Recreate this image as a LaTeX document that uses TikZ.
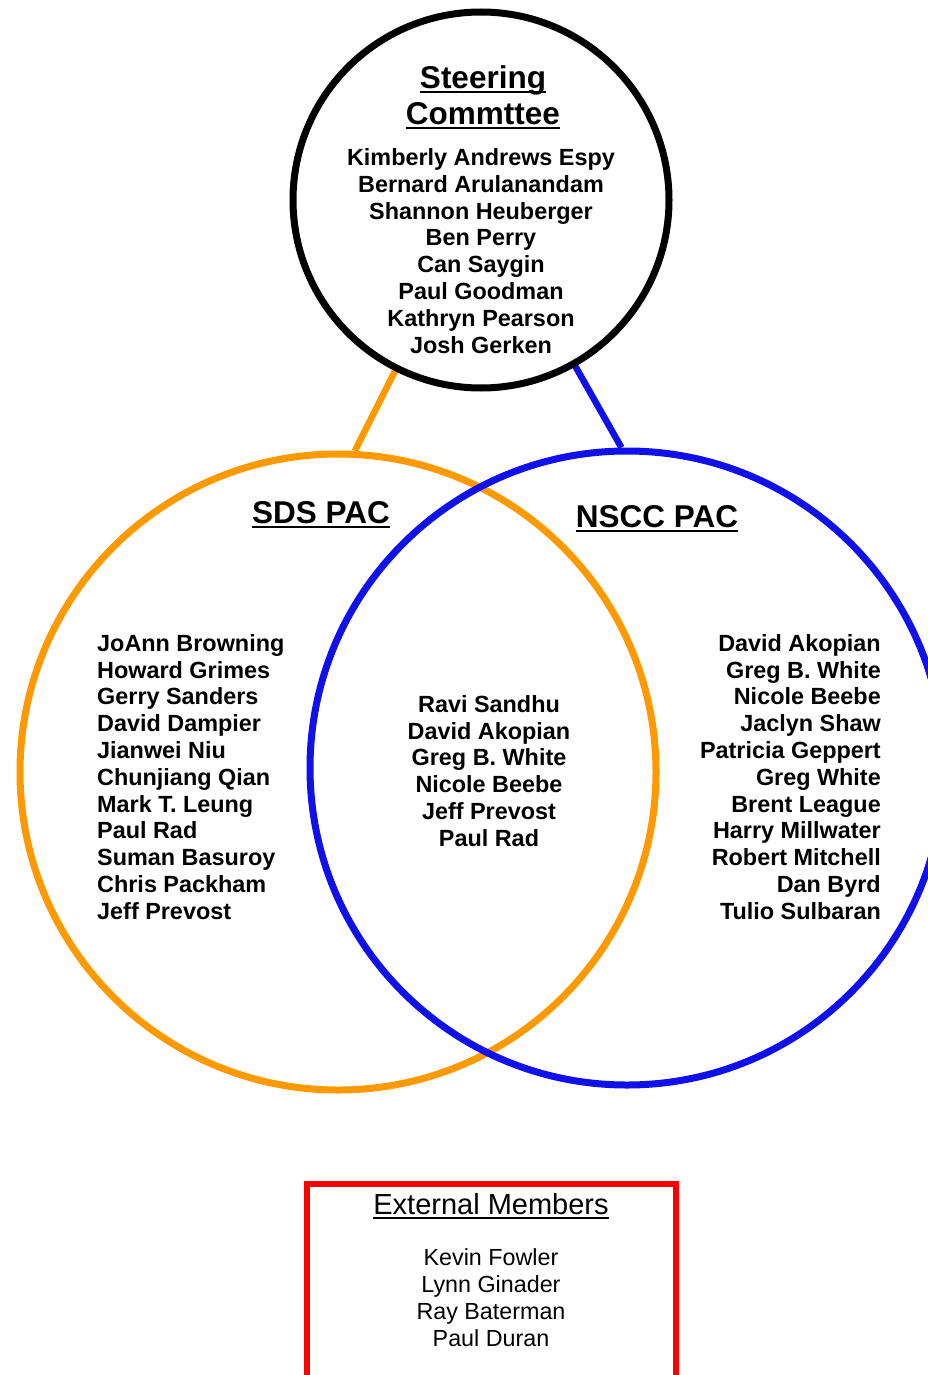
\documentclass[tikz,border=0pt]{standalone}
\usepackage{fontspec}
\setmainfont{Liberation Sans}
\usepackage{xcolor}
\usepackage{tikz}
\usetikzlibrary{positioning}
\definecolor{sdsorange}{RGB}{255,153,0}
\definecolor{nsccblue}{RGB}{16,16,235}
\definecolor{extred}{RGB}{255,0,0}
\newsavebox{\headbox}
\newcommand{\headul}[1]{\sbox{\headbox}{#1}\leavevmode\rlap{\rule[-4.5pt]{\wd\headbox}{1.8pt}}\usebox{\headbox}}
\newcommand{\namefont}{\fontsize{23.4}{26.8}\selectfont\bfseries}
\newcommand{\headfont}{\fontsize{31.5}{36}\selectfont\bfseries}
\newcommand{\extnamefont}{\fontsize{23.3}{27}\selectfont}
\newcommand{\extheadfont}{\fontsize{29}{34}\selectfont}
\tikzset{
	committee/.style={circle, draw, line width=7pt, inner sep=0pt},
	link/.style={line width=6.5pt},
	heading/.style={font=\headfont, align=center, inner sep=0pt},
	members/.style={font=\namefont, inner sep=0pt},
	extbox/.style={draw=extred, line width=6pt, minimum width=369pt, minimum height=206pt, inner sep=0pt},
	exthead/.style={font=\extheadfont, align=center, inner sep=0pt},
	extmembers/.style={font=\extnamefont, align=center, inner sep=0pt}
}
\begin{document}
\begin{tikzpicture}[x=1pt, y=-1pt]
	\useasboundingbox (0,0) rectangle (927,1375);
	
	% The two PAC circles, blue one on top.
	\node[committee, draw=sdsorange, minimum size=636pt] (sds) at (338,772) {};
	\node[committee, draw=nsccblue, minimum size=634pt] (nscc) at (627,768) {};
	
	% Steering committee circle and its links to the PACs.
	\draw[link, sdsorange] (sds.87) -- (481,200) coordinate (steering-c);
	\draw[link, nsccblue] (nscc.91) -- (steering-c);
	\node[committee, draw=black, fill=white, minimum size=376pt] (steering) at (481,200) {};
	
	\node[heading] (steering-head) at (483,97) {\headul{Steering}\\\headul{Commttee}};
	\node[members, align=center] (steering-list) at (481,251) {%
		Kimberly Andrews Espy\\
		Bernard Arulanandam\\
		Shannon Heuberger\\
		Ben Perry\\
		Can Saygin\\
		Paul Goodman\\
		Kathryn Pearson\\
		Josh Gerken};
	
	% SDS PAC members.
	\node[heading] (sds-head) at (321,515) {\headul{SDS PAC}};
	\node[members, align=left, anchor=west] (sds-list) at (97,777) {%
		JoAnn Browning\\
		Howard Grimes\\
		Gerry Sanders\\
		David Dampier\\
		Jianwei Niu\\
		Chunjiang Qian\\
		Mark T. Leung\\
		Paul Rad\\
		Suman Basuroy\\
		Chris Packham\\
		Jeff Prevost};
	
	% Members of both PACs.
	\node[members, align=center] (both-list) at (489,771) {%
		Ravi Sandhu\\
		David Akopian\\
		Greg B. White\\
		Nicole Beebe\\
		Jeff Prevost\\
		Paul Rad};
	
	% NSCC PAC members.
	\node[heading] (nscc-head) at (657,519) {\headul{NSCC PAC}};
	\node[members, align=right, anchor=east] (nscc-list) at (881,777) {%
		David Akopian\\
		Greg B. White\\
		Nicole Beebe\\
		Jaclyn Shaw\\
		Patricia Geppert\\
		Greg White\\
		Brent League\\
		Harry Millwater\\
		Robert Mitchell\\
		Dan Byrd\\
		Tulio Sulbaran};
	
	% External members box.
	\node[extbox] (external) at (491.5,1287) {};
	\node[exthead] (ext-head) at (491,1206) {\headul{External Members}};
	\node[extmembers] (ext-list) at (491,1298) {%
		Kevin Fowler\\
		Lynn Ginader\\
		Ray Baterman\\
		Paul Duran};
\end{tikzpicture}
\end{document}
